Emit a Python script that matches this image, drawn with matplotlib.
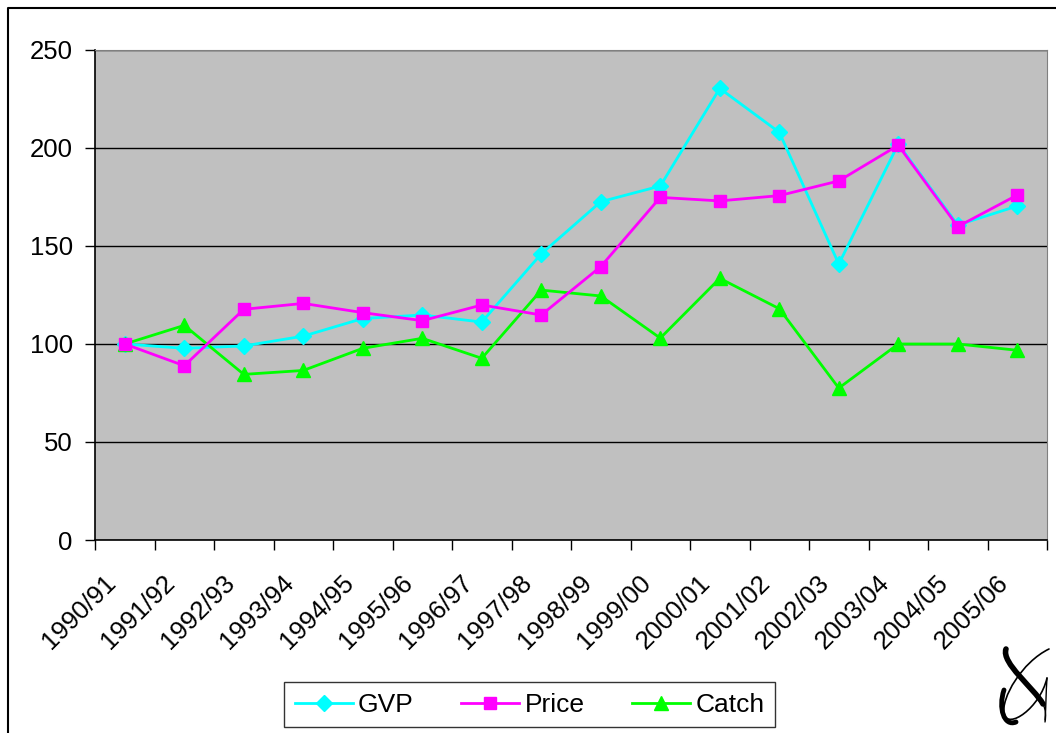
"""
Index chart of GVP, price and catch, 1990/91 to 2005/06.
"""
import matplotlib
matplotlib.use("Agg")
import matplotlib.pyplot as plt
import matplotlib.transforms as mtransforms
from matplotlib.lines import Line2D
from matplotlib.patches import PathPatch
from matplotlib.path import Path
import numpy as np


seasons = ["1990/91", "1991/92", "1992/93", "1993/94", "1994/95", "1995/96",
           "1996/97", "1997/98", "1998/99", "1999/00", "2000/01", "2001/02",
           "2002/03", "2003/04", "2004/05", "2005/06"]
gvp = [100, 97.8, 99, 104, 113, 114.8, 111.2, 146, 172.6, 180.6, 230.4, 208,
       140.8, 202, 160.7, 170.4]
price = [100, 88.9, 117.7, 120.7, 116, 111.9, 119.9, 114.8, 139.5, 174.8, 173,
         175.7, 183.2, 201.4, 159.9, 176]
catch = [100, 109.5, 84.5, 86.5, 97.8, 102.9, 92.7, 127.5, 124.5, 103, 133.5,
         118, 77.5, 100, 100, 96.8]

W, H = 1056.0, 733.0


def draw_logo(fig, px):
    # rough stand-in for the small black mark in the bottom-right corner
    C3 = Path.CURVE4
    strokes = [
        ([(1006, 649), (1001, 663), (1034, 688), (1043, 704)], 4.0),
        ([(1043, 704), (1046, 710), (1046, 716), (1045, 722)], 1.0),
        ([(1049, 649), (1022, 662), (1001, 698), (1004, 714)], 1.2),
        ([(1004, 714), (1008, 730), (1040, 708), (1047, 678)], 1.2),
        ([(1004, 690), (998, 708), (1004, 727), (1016, 722)], 3.5),
        ([(1047, 678), (1046, 692), (1046, 706), (1045, 720)], 1.0),
    ]
    for pts, lw in strokes:
        path = Path(pts, [Path.MOVETO, C3, C3, C3])
        fig.add_artist(PathPatch(path, transform=px, fill=False, lw=lw,
                                 edgecolor="black", capstyle="round"))


def main():
    plt.rcParams["font.family"] = ["Liberation Sans", "DejaVu Sans"]
    fig = plt.figure(figsize=(10.56, 7.33), dpi=100)
    fig.patch.set_facecolor("white")
    px = mtransforms.Affine2D().scale(1 / W, -1 / H).translate(0, 1) + fig.transFigure

    # outer frame: only the left and top edges fall inside the picture
    fig.add_artist(Line2D([7.5, 7.5, W], [H, 8, 8], transform=px,
                          color="black", lw=1.5))

    ax = fig.add_axes([0.09, 0.2633, 0.9015, 0.6685])
    ax.set_facecolor("#C0C0C0")
    x = np.arange(len(seasons))

    ax.plot(x, gvp, color="#00FFFF", lw=2, marker="D", markersize=8,
            label="GVP", zorder=3)
    ax.plot(x, price, color="#FF00FF", lw=2, marker="s", markersize=9,
            label="Price", zorder=4)
    ax.plot(x, catch, color="#00FF00", lw=2, marker="^", markersize=10,
            label="Catch", zorder=3)

    ax.set_xlim(-0.5, len(seasons) - 0.5)
    ax.set_ylim(0, 250)
    ax.set_yticks(np.arange(0, 251, 50))
    ax.tick_params(axis="y", labelsize=18.5, length=7, width=1,
                   direction="out", pad=9)
    ax.grid(True, axis="y", color="black", lw=1)
    ax.set_axisbelow(True)

    ax.set_xticks(np.arange(-0.5, len(seasons), 1.0), minor=False)
    ax.set_xticklabels([])
    ax.set_xticks(x, minor=True)
    ax.set_xticklabels(seasons, minor=True, rotation=45, ha="right",
                       va="center", rotation_mode="anchor", fontsize=18.5)
    ax.tick_params(axis="x", which="major", length=7, width=1)
    ax.tick_params(axis="x", which="minor", length=0, pad=28)
    shift = mtransforms.ScaledTranslation(-0.13, 0, fig.dpi_scale_trans)
    for lbl in ax.get_xticklabels(minor=True):
        lbl.set_transform(lbl.get_transform() + shift)

    for side in ("top", "right"):
        ax.spines[side].set_color("#808080")
    for side in ("left", "bottom"):
        ax.spines[side].set_color("black")
        ax.spines[side].set_linewidth(1.2)

    leg = fig.legend(loc="center", bbox_to_anchor=(0.5015, 0.0385), ncol=3,
                     fontsize=19, frameon=True, fancybox=False,
                     edgecolor="black", handlelength=2.2, columnspacing=1.8,
                     borderpad=0.4, borderaxespad=0, handletextpad=0.2)
    leg.get_frame().set_linewidth(1)

    draw_logo(fig, px)

    fig.savefig("out.png", dpi=100)
    plt.close(fig)


if __name__ == "__main__":
    main()
